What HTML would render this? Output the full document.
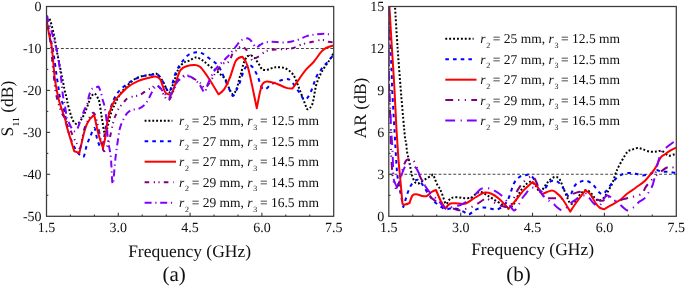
<!DOCTYPE html>
<html><head><meta charset="utf-8"><style>
html,body{margin:0;padding:0;background:#fff;}
svg{display:block;will-change:transform;}
text{font-family:"Liberation Serif",serif;fill:#111;text-rendering:geometricPrecision;}
</style></head><body>
<svg width="685" height="286" viewBox="0 0 685 286">
<defs><clipPath id="ca"><rect x="46.5" y="6.5" width="287.2" height="209.8"/></clipPath><clipPath id="cb"><rect x="388.8" y="6.5" width="287.5" height="209.8"/></clipPath></defs>
<line x1="46.5" y1="48.5" x2="333.7" y2="48.5" stroke="#444" stroke-width="1.05" stroke-dasharray="2.9 2.0" stroke-dashoffset="0.3"/>
<line x1="388.8" y1="174.3" x2="676.3" y2="174.3" stroke="#444" stroke-width="1.05" stroke-dasharray="2.9 2.0" stroke-dashoffset="-0.8"/>
<path d="M46.5,16.5 C47.1,17.1 49.2,17.8 50.1,20.2 C51.4,23.7 53.5,33.0 54.5,37.7 C55.5,42.4 55.6,45.0 56.2,48.2 C56.8,51.4 57.1,52.6 58.0,57.0 C58.9,61.4 60.4,69.2 61.5,74.5 C62.6,79.8 63.6,85.0 64.4,88.9 C65.2,92.8 65.9,94.9 66.6,97.7 C67.2,100.5 67.3,102.3 68.3,106.0 C69.3,109.7 71.1,116.7 72.5,119.7 C73.8,122.5 75.5,124.1 76.9,124.1 C78.4,124.1 79.8,121.9 81.2,119.7 C82.7,117.5 84.1,114.5 85.6,111.0 C87.1,107.5 89.0,101.3 90.2,98.6 C91.2,96.4 92.0,95.4 92.8,94.6 C93.6,93.8 94.2,93.3 95.0,93.8 C95.8,94.3 97.0,96.3 97.7,97.7 C98.4,99.1 98.9,99.7 99.4,102.0 C100.0,104.8 100.8,111.1 101.3,114.6 C101.8,118.1 102.2,120.2 102.7,123.0 C103.2,125.8 103.5,129.7 104.1,131.4 C104.5,132.6 105.4,134.1 106.0,133.0 C106.7,131.9 107.3,127.7 108.0,125.0 C108.7,122.3 109.3,119.5 110.0,117.0 C110.7,114.5 111.2,112.0 112.0,110.0 C112.8,108.0 113.5,107.1 114.6,104.8 C115.7,102.5 117.1,99.2 118.8,96.4 C120.5,93.6 122.3,90.9 125.0,88.0 C127.7,85.1 131.7,81.1 135.0,79.0 C138.3,76.9 142.2,76.2 145.0,75.5 C147.8,74.8 150.0,74.8 152.0,74.5 C154.0,74.2 155.2,72.9 157.0,74.0 C158.8,75.1 161.0,78.4 162.6,81.0 C164.2,83.6 165.6,87.5 166.8,89.4 C167.8,91.1 168.4,93.4 169.6,92.2 C170.8,91.0 172.4,86.1 173.8,82.4 C175.2,78.7 176.4,73.1 178.0,69.8 C179.6,66.5 181.7,64.3 183.6,62.8 C185.5,61.3 187.1,61.6 189.2,60.7 C191.3,59.8 193.7,57.4 196.0,57.4 C198.3,57.4 200.7,59.2 203.0,60.7 C205.3,62.2 207.4,64.3 210.0,66.3 C212.6,68.3 215.9,70.4 218.5,72.6 C221.1,74.8 223.8,77.0 225.5,79.6 C227.2,82.2 227.8,85.6 229.0,88.0 C230.2,90.4 231.6,94.0 232.8,94.2 C234.1,94.4 235.3,91.9 236.5,89.0 C237.7,86.1 239.0,79.7 239.8,77.0 C240.4,74.9 240.6,74.9 241.2,72.8 C241.8,70.7 242.6,66.7 243.3,64.4 C244.0,62.1 244.8,60.4 245.5,59.0 C246.2,57.6 246.6,56.8 247.5,56.2 C248.4,55.6 249.8,55.4 251.0,55.6 C252.2,55.8 253.4,56.5 254.4,57.5 C255.4,58.5 256.3,60.2 257.2,61.6 C258.1,63.0 259.2,64.5 260.0,65.8 C260.8,67.1 261.1,68.6 262.1,69.3 C263.2,70.0 264.9,70.1 266.3,70.0 C267.7,69.9 269.1,69.0 270.5,68.6 C271.9,68.2 273.3,67.6 274.7,67.4 C276.1,67.2 277.0,67.0 278.9,67.2 C280.8,67.4 283.5,67.2 285.9,68.5 C288.3,69.8 291.3,71.9 293.5,75.2 C295.7,78.5 297.3,83.8 299.2,88.5 C301.1,93.2 303.5,100.1 304.9,103.6 C306.1,106.5 306.4,109.3 307.7,109.3 C309.0,109.3 311.3,107.1 312.5,103.6 C313.9,99.5 314.7,90.1 316.3,84.7 C317.9,79.3 319.8,75.5 322.0,71.4 C324.2,67.3 327.6,63.1 329.5,60.0 C331.4,56.9 333.0,54.2 333.7,53.0" fill="none" stroke="#000000" stroke-width="2.0" stroke-dasharray="1.9 1.95" stroke-linejoin="round" clip-path="url(#ca)"/>
<path d="M46.5,18.0 C47.0,20.5 48.5,28.0 49.5,33.0 C50.5,38.0 51.7,43.5 52.5,48.0 C53.3,52.5 53.8,55.5 54.5,60.0 C55.2,64.5 55.8,70.3 56.5,75.0 C57.2,79.7 58.0,84.5 58.5,88.0 C59.0,91.5 59.0,93.7 59.7,96.2 C60.4,98.7 61.7,100.6 62.5,103.2 C63.3,105.8 63.8,108.7 64.5,112.0 C65.2,115.3 66.0,119.5 66.7,122.8 C67.4,126.1 67.6,128.8 68.5,132.0 C69.4,135.2 70.8,139.0 72.0,142.0 C73.2,145.0 74.7,147.8 76.0,150.0 C77.3,152.2 78.7,153.9 80.0,155.0 C81.3,156.1 82.7,158.1 83.8,156.5 C84.9,154.9 85.6,148.8 86.7,145.4 C87.8,142.0 89.3,138.7 90.6,135.8 C91.9,132.9 93.3,127.4 94.4,128.0 C95.5,128.6 96.3,136.5 97.3,139.6 C98.3,142.7 99.2,145.7 100.2,146.3 C101.2,147.0 102.4,145.4 103.0,143.5 C103.8,141.1 104.3,135.8 105.0,132.0 C105.7,128.2 106.2,123.9 107.0,120.4 C107.8,116.9 108.6,114.3 109.8,110.8 C111.0,107.3 112.2,102.7 113.9,99.2 C115.6,95.7 117.3,92.9 120.0,90.0 C122.7,87.1 126.7,84.2 130.0,82.0 C133.3,79.8 136.2,78.2 140.0,77.0 C143.8,75.8 149.8,75.1 152.6,74.6 C154.8,74.2 155.4,73.1 157.0,74.0 C158.6,74.9 160.5,77.7 162.0,80.0 C163.5,82.3 164.8,86.0 166.0,88.0 C167.2,90.0 168.0,92.5 169.0,92.0 C170.0,91.5 171.0,88.0 172.0,85.0 C173.0,82.0 174.0,77.2 175.2,74.0 C176.4,70.8 178.0,67.9 179.4,65.6 C180.8,63.3 182.0,61.9 183.6,60.0 C185.2,58.1 186.9,55.8 189.0,54.5 C191.1,53.2 194.1,52.4 196.4,52.2 C198.7,52.1 200.5,52.6 202.6,53.6 C204.7,54.6 206.6,56.4 208.8,58.0 C211.0,59.6 213.8,61.2 215.8,63.3 C217.8,65.3 219.7,68.1 221.0,70.3 C222.3,72.5 222.3,73.4 223.6,76.4 C224.9,79.4 227.5,85.2 229.0,88.5 C230.5,91.8 231.6,95.8 232.8,96.0 C234.1,96.2 235.2,92.5 236.5,90.0 C237.8,87.5 239.2,84.2 240.4,80.9 C241.7,77.6 242.7,72.6 244.0,70.0 C245.3,67.4 246.7,66.1 248.0,65.5 C249.3,64.9 250.6,65.0 252.0,66.5 C253.6,68.2 256.1,72.7 257.6,76.0 C259.1,79.3 260.0,84.4 261.2,86.6 C262.3,88.7 263.1,89.9 265.0,89.4 C266.9,88.9 269.1,85.4 272.6,83.7 C276.1,82.0 282.7,79.3 285.9,79.0 C289.1,78.7 289.4,79.6 291.6,81.8 C293.8,84.0 297.0,89.3 299.2,92.3 C301.4,95.3 303.0,99.8 304.9,99.8 C306.8,99.8 308.7,96.1 310.6,92.3 C312.5,88.5 314.7,80.5 316.3,77.0 C317.7,73.9 318.7,73.1 320.0,71.2 C321.3,69.3 322.6,67.2 323.9,65.7 C325.2,64.2 326.0,63.8 327.6,62.0 C329.2,60.2 332.4,56.2 333.3,55.0" fill="none" stroke="#0000ff" stroke-width="2.0" stroke-dasharray="3.6 4.1" stroke-linejoin="round" clip-path="url(#ca)"/>
<path d="M46.5,19.5 C46.9,21.9 48.1,29.2 49.0,34.0 C49.9,38.8 51.0,41.2 51.9,48.2 C52.8,55.2 53.9,70.1 54.5,76.2 C55.0,80.6 55.1,81.2 55.8,85.0 C56.5,88.8 57.5,94.5 58.5,98.7 C59.5,102.9 60.8,106.3 62.0,110.0 C63.2,113.7 64.8,118.1 65.5,120.6 C66.1,122.7 65.7,122.8 66.3,125.0 C67.8,130.1 74.2,151.3 74.2,151.3 C74.2,151.3 79.4,152.9 79.4,152.9 C79.4,152.9 82.8,137.7 84.0,133.0 C85.0,128.9 85.5,127.3 86.5,125.0 C87.5,122.7 89.9,119.0 89.9,119.0 C89.9,119.0 94.2,114.8 94.2,114.8 C94.2,114.8 97.2,129.5 98.7,135.0 C100.2,140.5 103.0,148.0 103.0,148.0 C103.0,148.0 105.0,139.6 105.7,135.0 C106.5,130.4 106.7,124.8 107.5,120.4 C108.3,116.0 109.6,112.1 110.8,108.8 C112.0,105.5 113.5,102.5 114.6,100.6 C115.7,98.7 116.0,98.9 117.5,97.4 C119.7,95.1 124.5,89.7 128.0,86.9 C131.5,84.1 134.8,82.4 138.5,80.8 C142.2,79.2 147.2,78.2 150.0,77.5 C152.8,76.8 153.9,76.2 155.6,76.5 C157.3,76.8 158.8,77.7 160.0,79.2 C161.2,80.7 161.7,83.3 162.6,85.5 C163.5,87.7 164.2,90.8 165.2,92.3 C166.2,93.8 167.3,94.1 168.4,94.4 C169.5,94.8 171.5,94.4 171.5,94.4 C171.5,94.4 173.0,90.8 174.1,87.6 C175.2,84.4 177.2,78.0 178.3,75.0 C179.3,72.3 179.5,71.2 180.8,69.8 C182.2,68.3 184.1,67.1 186.4,66.3 C188.7,65.5 192.5,64.8 194.8,64.9 C197.1,65.0 198.2,65.0 200.3,67.0 C202.6,69.2 205.7,73.7 208.7,78.2 C211.7,82.8 218.5,94.3 218.5,94.3 C218.5,94.3 222.2,92.1 224.1,89.4 C226.0,86.7 227.7,83.0 229.7,78.2 C231.7,73.4 233.8,64.3 235.9,60.7 C237.8,57.5 242.3,56.8 242.3,56.8 C242.3,56.8 246.2,60.8 247.6,65.9 C250.0,74.5 256.8,108.3 256.8,108.3 C256.8,108.3 260.1,89.8 261.8,85.3 C263.0,82.3 264.4,81.6 267.0,81.4 C269.6,81.2 274.1,82.9 277.3,84.0 C280.5,85.1 283.9,87.2 286.4,87.9 C288.9,88.7 292.5,88.5 292.5,88.5 C292.5,88.5 297.1,81.9 299.3,78.8 C301.5,75.7 303.4,72.6 305.8,69.8 C308.2,67.0 311.0,65.0 313.6,62.0 C316.2,59.0 319.3,53.9 321.4,51.6 C323.3,49.4 324.0,49.0 326.0,48.0 C328.0,47.0 332.2,45.9 333.5,45.5" fill="none" stroke="#ff0000" stroke-width="2.0" stroke-linejoin="round" clip-path="url(#ca)"/>
<path d="M46.5,19.0 C47.0,21.7 48.4,30.2 49.2,35.0 C50.0,39.8 50.8,43.2 51.3,48.0 C51.8,52.8 52.0,59.0 52.5,64.0 C53.0,69.0 53.5,73.4 54.0,78.0 C54.5,82.6 54.9,87.7 55.6,91.7 C56.3,95.7 57.1,98.7 58.1,102.2 C59.1,105.7 60.4,110.0 61.6,112.7 C62.8,115.4 63.8,116.0 65.1,118.5 C66.4,121.0 68.2,124.5 69.5,127.5 C70.8,130.5 71.8,133.7 73.0,136.3 C74.2,138.9 75.3,141.1 76.5,143.0 C77.7,144.9 79.0,150.0 80.3,147.8 C81.5,145.6 82.7,134.6 84.0,130.0 C85.3,125.4 86.6,122.9 88.2,120.0 C89.8,117.1 92.0,112.4 93.5,112.7 C95.0,113.0 95.8,117.5 97.0,122.0 C98.2,126.5 99.8,135.1 101.0,140.0 C102.2,144.9 102.7,150.9 104.0,151.2 C105.3,151.4 107.2,146.6 108.8,141.5 C110.4,136.4 112.4,125.1 113.7,120.4 C114.7,116.6 115.9,115.1 116.7,113.2 C117.5,111.3 117.6,110.3 118.5,108.8 C119.4,107.3 120.8,105.8 122.3,104.1 C123.8,102.4 125.3,99.8 127.2,98.5 C129.1,97.2 131.4,97.0 133.5,96.4 C135.6,95.8 137.6,96.1 139.8,95.0 C142.1,93.9 145.1,91.2 147.0,90.0 C148.9,88.8 150.0,88.8 151.4,88.0 C152.8,87.2 154.2,85.2 155.6,85.2 C157.0,85.2 158.6,86.3 160.0,88.0 C161.4,89.7 162.7,93.4 164.0,95.5 C165.3,97.6 166.8,100.4 168.0,100.5 C169.2,100.6 170.4,98.1 171.5,96.0 C172.6,93.9 173.2,91.0 174.5,88.0 C175.8,85.0 177.4,80.3 179.4,78.2 C181.4,76.1 184.3,75.5 186.4,75.4 C188.5,75.3 189.7,76.2 192.0,77.5 C194.3,78.8 198.1,81.2 200.3,83.0 C202.5,84.8 203.1,88.6 205.0,88.0 C206.9,87.4 209.7,82.2 211.5,79.6 C213.3,77.0 213.8,75.2 215.7,72.6 C217.6,70.0 220.5,65.8 222.7,64.0 C224.9,62.1 227.1,63.5 228.9,61.5 C230.7,59.5 232.1,53.7 233.3,51.9 C234.1,50.7 234.7,51.5 235.9,50.7 C237.2,49.8 239.4,46.8 241.1,46.6 C242.8,46.4 244.4,47.8 245.9,49.3 C247.4,50.8 248.8,53.5 249.9,55.4 C251.0,57.3 251.5,60.2 252.5,60.6 C253.5,61.0 254.7,58.9 256.0,58.0 C257.3,57.1 258.6,56.6 260.4,55.4 C262.1,54.2 263.8,52.0 266.5,51.0 C269.2,50.0 272.2,49.8 276.4,49.4 C280.6,49.0 287.5,49.3 291.6,48.5 C295.7,47.7 297.5,45.8 301.0,44.7 C304.5,43.6 309.0,42.6 312.5,41.8 C316.0,41.0 319.3,39.9 322.0,39.9 C324.7,39.9 326.7,41.4 328.6,41.8 C330.6,42.2 332.9,42.4 333.7,42.5" fill="none" stroke="#800080" stroke-width="2.0" stroke-dasharray="4.6 4.6 1.2 3.4 1.2 4.2" stroke-linejoin="round" clip-path="url(#ca)"/>
<path d="M46.6,15.3 C47.5,18.2 50.2,26.9 52.0,33.0 C53.8,39.1 55.7,44.8 57.1,51.7 C58.5,58.6 59.6,67.2 60.6,74.5 C61.6,81.8 62.2,90.3 62.9,95.2 C63.5,99.6 64.0,100.8 64.6,104.0 C65.2,107.2 65.8,111.7 66.4,114.5 C67.0,117.3 67.2,118.3 68.1,120.6 C68.9,122.8 70.5,126.2 71.5,128.0 C72.5,129.8 73.2,130.8 74.0,131.2 C74.8,131.6 75.7,131.1 76.5,130.2 C77.3,129.3 77.7,128.1 78.6,125.8 C79.5,123.4 80.9,118.9 82.0,116.0 C83.1,113.1 84.1,110.6 85.0,108.5 C85.9,106.4 86.7,105.7 87.4,103.6 C88.1,101.5 88.3,98.0 89.0,95.7 C89.7,93.4 90.6,90.8 91.5,89.5 C92.4,88.2 93.3,88.5 94.5,88.0 C95.7,87.5 98.5,86.5 98.5,86.5 C98.5,86.5 100.1,89.7 100.8,91.8 C101.5,93.9 101.8,96.5 102.4,98.9 C103.0,101.3 103.8,102.5 104.5,106.0 C105.2,109.5 105.9,114.4 106.5,120.0 C107.1,125.6 107.2,133.4 107.9,139.6 C108.6,145.8 110.0,149.6 110.8,157.0 C111.6,164.4 111.9,184.0 112.7,184.0 C113.5,184.0 114.6,165.3 115.6,157.0 C116.6,148.7 118.0,139.2 118.8,134.2 C119.3,130.7 119.5,129.5 120.2,127.2 C120.9,124.9 121.8,122.5 123.0,120.2 C124.2,117.9 125.7,115.0 127.2,113.2 C128.7,111.5 130.1,110.4 132.0,109.7 C133.9,109.0 136.3,109.8 138.4,109.0 C140.5,108.2 143.1,106.3 144.7,104.8 C146.3,103.3 147.0,101.7 148.1,99.9 C149.2,98.1 149.8,96.2 151.0,94.0 C152.2,91.8 154.2,87.7 155.6,86.5 C157.0,85.3 158.2,86.0 159.5,87.0 C160.8,88.0 162.0,90.5 163.6,92.3 C165.2,94.1 167.5,97.6 168.9,97.6 C170.3,97.5 170.8,94.3 172.0,92.0 C173.2,89.7 175.0,85.8 176.0,84.0 C176.9,82.4 176.7,82.2 178.0,81.0 C179.5,79.7 183.1,76.8 185.0,76.0 C186.9,75.2 188.1,76.2 189.3,76.4 C190.5,76.7 190.8,76.6 192.0,77.5 C193.6,78.7 196.9,81.3 199.0,83.8 C201.1,86.2 203.1,92.0 204.5,92.2 C205.9,92.4 205.9,88.4 207.3,85.2 C208.7,82.0 211.4,76.0 213.1,72.9 C214.8,69.8 215.9,68.7 217.5,66.8 C219.1,64.9 221.1,63.2 222.8,61.5 C224.6,59.8 226.4,58.0 228.0,56.3 C229.6,54.5 230.9,52.8 232.4,51.0 C233.9,49.2 235.4,47.1 236.8,45.4 C238.2,43.6 239.2,41.7 241.1,40.5 C243.0,39.3 246.2,38.0 248.1,38.4 C250.0,38.8 251.2,41.1 252.5,42.6 C253.8,44.1 254.8,47.1 256.0,47.5 C257.2,47.9 258.5,45.8 260.0,45.0 C261.5,44.2 262.9,43.1 264.8,42.6 C266.8,42.1 268.2,41.8 271.7,41.8 C275.2,41.8 281.7,42.7 286.0,42.4 C290.3,42.1 293.8,41.0 297.3,40.0 C300.8,39.0 303.9,37.0 306.8,36.1 C309.8,35.2 312.1,34.9 315.0,34.5 C317.9,34.1 321.6,33.8 323.9,33.7 C326.2,33.7 327.0,34.1 328.6,34.2 C330.2,34.3 332.9,34.5 333.7,34.5" fill="none" stroke="#8000ff" stroke-width="2.0" stroke-dasharray="7 3.7 1.2 3.7" stroke-linejoin="round" clip-path="url(#ca)"/>
<path d="M395.1,7.9 C395.5,14.6 396.6,33.6 397.6,48.0 C398.6,62.4 399.9,78.8 401.1,94.0 C402.4,109.2 404.3,130.9 405.1,139.0 C405.3,140.9 405.8,140.8 406.1,142.6 C406.4,144.7 406.6,148.6 407.0,151.4 C407.4,154.2 408.1,156.4 408.7,159.2 C409.3,162.0 409.9,165.2 410.5,168.0 C411.1,170.8 411.5,173.5 412.2,175.8 C412.9,178.1 413.9,180.7 414.8,182.0 C415.6,183.2 416.6,183.3 417.4,183.5 C418.2,183.7 418.6,183.5 419.6,183.0 C420.6,182.4 422.2,181.1 423.6,180.2 C425.0,179.3 426.7,178.3 428.0,177.6 C429.3,176.9 430.6,176.3 431.5,175.8 C432.4,175.3 432.6,174.1 433.2,174.7 C433.8,175.3 434.3,177.5 435.0,179.3 C435.7,181.1 436.8,183.9 437.6,185.5 C438.4,187.1 439.1,187.3 440.0,189.0 C440.9,190.7 441.7,193.1 442.7,195.6 C443.7,198.1 444.8,203.3 445.8,204.0 C446.9,204.7 447.9,201.1 449.0,200.0 C450.1,198.9 450.5,198.1 452.1,197.7 C453.7,197.2 456.3,197.2 458.4,197.3 C460.5,197.4 462.6,198.1 464.7,198.2 C466.8,198.3 469.3,198.3 471.0,197.7 C472.7,197.1 473.6,195.5 475.1,194.6 C476.6,193.7 478.2,192.0 480.0,192.0 C481.8,192.0 483.9,193.4 486.1,194.6 C488.4,195.8 490.7,197.6 493.5,199.3 C496.3,201.0 500.3,203.3 502.8,204.8 C505.3,206.3 506.5,208.7 508.3,208.5 C510.1,208.3 512.0,206.5 513.9,203.9 C515.8,201.3 517.5,195.9 519.4,192.8 C521.2,189.7 523.1,187.2 525.0,185.4 C526.9,183.6 528.8,181.6 530.6,181.7 C532.4,181.8 534.4,184.3 536.0,186.0 C537.6,187.7 538.4,192.1 540.0,192.0 C541.6,191.9 543.9,187.3 545.4,185.4 C546.9,183.5 547.6,182.1 549.1,180.7 C550.6,179.3 552.9,177.3 554.6,177.0 C556.3,176.7 557.9,177.2 559.3,178.9 C560.7,180.6 561.6,184.0 563.0,187.2 C564.4,190.4 566.3,195.5 567.6,198.3 C568.9,201.1 569.6,203.7 571.0,204.0 C572.4,204.3 574.3,201.9 575.9,200.2 C577.5,198.5 578.9,195.4 580.6,193.7 C582.3,192.0 584.4,190.2 586.1,190.0 C587.8,189.8 589.3,191.6 590.7,192.8 C592.1,194.0 593.0,196.1 594.4,197.4 C595.8,198.7 597.3,200.8 598.9,200.8 C600.5,200.8 602.6,199.1 604.2,197.3 C605.8,195.6 607.1,192.9 608.6,190.3 C610.1,187.7 611.8,184.4 613.0,181.6 C614.2,178.8 614.6,176.3 615.6,173.7 C616.6,171.1 617.1,169.5 619.0,165.9 C620.9,162.3 625.1,154.7 627.2,152.0 C628.7,150.1 630.1,150.6 631.7,149.9 C633.3,149.2 635.2,148.2 637.0,148.1 C638.8,147.9 640.2,148.4 642.2,149.0 C644.2,149.6 646.9,151.2 649.2,151.6 C651.5,152.0 654.1,151.7 656.2,151.6 C658.3,151.5 660.0,150.3 662.0,151.0 C664.0,151.7 666.4,155.1 668.5,155.6 C670.6,156.1 673.3,154.5 674.6,154.2 C675.4,154.0 676.0,154.0 676.3,154.0" fill="none" stroke="#000000" stroke-width="2.0" stroke-dasharray="1.9 2" stroke-linejoin="round" clip-path="url(#cb)"/>
<path d="M388.9,6.0 C389.1,11.7 389.8,29.3 390.2,40.0 C390.6,50.7 391.2,61.4 391.6,70.0 C392.0,78.6 391.8,81.8 392.3,91.8 C392.8,101.8 393.8,117.8 394.5,130.0 C395.2,142.2 395.9,156.7 396.5,165.0 C397.0,172.5 397.3,175.3 398.0,180.0 C398.7,184.7 399.6,188.5 400.5,193.0 C401.4,197.5 403.3,207.0 403.3,207.0 C403.3,207.0 404.9,201.6 405.7,199.1 C406.5,196.6 407.1,194.3 408.0,192.0 C408.9,189.7 409.9,187.0 411.2,185.0 C412.5,183.0 414.6,181.0 415.9,180.2 C417.2,179.4 417.9,179.5 419.0,180.2 C420.1,180.9 421.0,182.5 422.2,184.2 C423.4,185.9 424.8,188.4 426.1,190.4 C427.4,192.4 428.8,194.3 430.0,196.0 C431.2,197.7 432.1,199.4 433.2,200.7 C434.3,201.9 435.1,202.4 436.5,203.5 C437.9,204.6 440.1,206.2 441.6,207.2 C443.2,208.2 444.1,209.1 445.8,209.3 C447.6,209.5 450.0,208.2 452.1,208.2 C454.2,208.2 456.3,208.6 458.4,209.3 C460.5,210.0 462.9,211.5 464.7,212.4 C466.4,213.3 467.2,214.9 468.9,214.5 C470.6,214.1 472.9,211.2 475.1,210.0 C477.4,208.8 479.9,207.8 482.4,207.6 C484.8,207.3 487.3,208.2 489.8,208.5 C492.3,208.8 494.7,210.0 497.2,209.4 C499.7,208.8 502.6,207.0 504.6,204.8 C506.6,202.7 507.8,200.1 509.3,196.5 C510.9,192.9 512.2,186.8 513.9,183.5 C515.6,180.2 517.5,178.4 519.4,177.0 C521.2,175.6 523.1,175.5 525.0,175.2 C526.9,174.9 528.8,174.0 530.6,175.2 C532.5,176.4 534.6,180.0 536.1,182.6 C537.6,185.2 538.5,189.7 539.8,190.9 C541.1,192.1 542.5,191.4 544.0,190.0 C545.5,188.6 547.6,184.2 549.1,182.6 C550.5,181.1 551.3,180.8 552.8,180.7 C554.3,180.6 556.1,180.6 558.0,182.0 C559.9,183.4 562.0,186.6 563.9,189.0 C565.8,191.4 567.5,197.1 569.4,196.5 C571.2,195.9 573.1,187.9 575.0,185.4 C576.9,182.9 578.8,182.5 580.6,181.7 C582.5,180.9 584.2,180.4 586.1,180.7 C588.0,181.0 590.1,182.3 591.7,183.5 C593.3,184.7 594.1,186.1 595.5,187.7 C596.9,189.3 598.6,191.9 599.9,193.0 C601.1,194.0 602.0,194.3 603.0,194.0 C604.0,193.7 604.7,192.8 606.0,191.2 C607.4,189.6 609.5,186.4 611.2,184.2 C613.0,182.0 614.8,179.7 616.5,178.1 C618.2,176.5 619.7,175.5 621.7,174.6 C623.7,173.7 626.4,173.1 628.7,172.9 C631.0,172.8 633.4,173.3 635.7,173.7 C638.0,174.1 640.2,175.5 642.7,175.5 C645.2,175.5 648.8,174.4 651.0,173.5 C653.2,172.6 654.5,170.3 656.2,170.0 C658.0,169.7 659.5,171.4 661.5,171.7 C663.5,172.0 666.0,171.5 668.5,171.7 C671.0,171.9 675.0,172.9 676.3,173.1" fill="none" stroke="#0000ff" stroke-width="2.0" stroke-dasharray="3.6 4.1" stroke-linejoin="round" clip-path="url(#cb)"/>
<path d="M389.4,6.6 C389.8,13.8 391.1,35.9 392.0,49.8 C392.9,63.7 393.8,76.6 394.5,90.0 C395.2,103.4 395.8,118.3 396.5,130.0 C397.2,141.7 398.0,153.3 398.5,160.0 C398.9,165.0 399.0,165.5 399.4,170.0 C399.8,174.5 400.5,181.3 401.0,187.0 C401.5,192.7 402.5,204.0 402.5,204.0 C402.5,204.0 403.8,204.8 405.0,204.6 C406.2,204.4 409.6,203.0 409.6,203.0 C409.6,203.0 411.4,196.6 412.7,195.2 C414.0,193.8 415.8,194.3 417.4,194.4 C419.0,194.5 420.6,195.7 422.2,196.0 C423.8,196.3 425.3,196.7 426.9,196.0 C428.5,195.3 430.1,193.0 431.6,192.0 C433.1,191.0 436.0,190.0 436.0,190.0 C436.0,190.0 439.2,197.9 440.8,201.0 C442.4,204.1 445.6,208.5 445.6,208.5 C445.6,208.5 448.2,204.3 450.4,203.5 C452.6,202.7 456.1,203.5 458.7,203.5 C461.3,203.5 463.0,204.5 465.8,203.5 C468.6,202.5 472.1,199.3 475.3,197.5 C478.5,195.7 482.0,193.2 484.8,192.6 C487.6,192.0 489.6,193.0 492.0,194.0 C494.4,195.0 496.2,196.4 499.0,198.8 C501.8,201.2 508.5,208.7 508.5,208.7 C508.5,208.7 513.0,203.6 515.5,200.6 C518.0,197.6 520.7,193.5 523.6,190.4 C526.5,187.3 532.7,181.9 532.7,181.9 C532.7,181.9 536.3,185.2 537.8,187.3 C539.3,189.4 541.9,194.4 541.9,194.4 C541.9,194.4 544.3,193.2 546.0,192.5 C547.7,191.8 550.3,190.4 552.0,190.4 C553.7,190.4 554.3,191.2 556.0,192.5 C557.7,193.8 559.7,195.3 562.1,198.5 C564.5,201.7 570.2,211.6 570.2,211.6 C570.2,211.6 573.8,206.0 576.3,202.5 C578.8,199.0 585.4,190.4 585.4,190.4 C585.4,190.4 588.7,192.3 590.4,194.4 C592.1,196.5 594.0,200.8 595.5,203.0 C597.0,205.2 598.2,206.5 599.6,207.6 C601.0,208.7 604.0,209.3 604.0,209.3 C604.0,209.3 608.5,206.8 611.2,205.2 C613.9,203.6 617.4,201.9 620.0,200.0 C622.6,198.1 624.4,195.9 627.0,193.8 C629.6,191.8 632.7,189.9 635.7,187.7 C638.7,185.5 642.2,183.4 645.0,180.7 C647.8,178.0 650.8,174.1 652.7,171.7 C654.6,169.3 654.9,168.8 656.2,166.5 C657.5,164.2 659.1,159.8 660.6,157.7 C662.1,155.6 663.4,155.4 665.0,154.2 C666.6,153.0 668.4,151.8 670.2,150.7 C672.0,149.6 675.0,148.1 676.0,147.6" fill="none" stroke="#ff0000" stroke-width="2.0" stroke-linejoin="round" clip-path="url(#cb)"/>
<path d="M388.5,6.0 C388.5,15.0 388.5,46.3 388.6,60.0 C388.7,73.7 388.8,78.3 389.1,88.0 C389.4,97.7 389.9,107.7 390.2,118.0 C390.5,128.3 390.6,140.5 391.0,150.0 C391.4,159.5 392.0,169.5 392.5,175.0 C392.9,179.1 393.4,180.8 394.0,183.0 C394.6,185.2 395.0,188.5 396.0,188.0 C397.0,187.5 398.8,183.3 400.0,180.0 C401.2,176.7 401.9,171.3 403.0,168.0 C404.1,164.7 405.1,161.5 406.6,160.1 C408.1,158.7 410.7,159.1 412.2,159.8 C413.7,160.5 414.5,161.8 415.7,164.5 C417.0,167.3 418.8,173.6 420.1,176.7 C421.4,179.8 422.5,180.6 423.6,182.8 C424.8,185.0 425.9,187.7 427.0,190.0 C428.1,192.3 428.6,194.9 430.0,196.7 C431.4,198.5 433.5,199.8 435.3,200.9 C437.1,202.0 438.9,202.1 440.6,203.0 C442.4,203.9 443.9,205.3 445.8,206.1 C447.7,206.9 449.9,207.3 452.0,208.0 C454.1,208.7 456.2,210.1 458.4,210.3 C460.6,210.5 462.9,209.5 465.0,209.0 C467.1,208.5 469.0,208.0 471.0,207.2 C473.0,206.4 475.2,205.2 477.2,204.0 C479.2,202.8 481.5,200.9 483.0,200.0 C484.5,199.1 484.4,198.0 486.1,198.3 C487.8,198.6 490.5,200.8 493.0,202.0 C495.5,203.2 498.4,204.9 500.9,205.7 C503.4,206.5 506.1,207.4 508.0,207.0 C509.9,206.6 510.7,205.2 512.0,203.0 C513.3,200.8 514.2,196.7 515.7,193.7 C517.2,190.7 519.1,187.5 521.0,185.0 C522.9,182.5 525.0,180.4 526.9,178.9 C528.8,177.4 531.2,176.2 532.4,176.1 C533.6,175.9 533.6,176.9 534.3,178.0 C535.1,179.2 535.9,181.2 537.0,183.5 C538.1,185.8 539.6,189.5 541.0,192.0 C542.4,194.5 544.0,197.2 545.4,198.3 C546.8,199.4 547.2,198.3 549.1,198.3 C551.0,198.3 554.0,198.3 556.5,198.3 C559.0,198.3 561.4,198.9 563.9,198.3 C566.4,197.7 568.8,195.7 571.3,194.6 C573.8,193.5 576.4,192.2 578.7,191.9 C581.0,191.6 583.1,192.4 585.0,193.0 C586.9,193.6 588.4,194.6 590.2,195.6 C592.0,196.6 594.0,198.1 596.0,199.0 C598.0,199.9 600.5,201.1 602.5,200.8 C604.5,200.5 606.2,197.1 608.0,197.0 C609.8,196.9 611.3,199.4 613.0,200.0 C614.7,200.6 616.5,201.0 618.2,200.8 C620.0,200.7 621.5,199.7 623.5,199.1 C625.5,198.5 628.2,197.9 630.5,197.3 C632.8,196.7 635.4,196.3 637.4,195.6 C639.4,194.9 641.3,194.5 642.7,193.0 C644.1,191.5 644.0,189.3 646.0,186.6 C648.0,183.9 651.9,179.6 654.5,177.0 C657.1,174.4 659.6,172.5 661.8,170.9 C664.0,169.3 666.0,167.8 667.6,167.3 C669.2,166.8 669.8,167.8 671.2,167.7 C672.6,167.6 675.2,167.1 676.0,167.0" fill="none" stroke="#800080" stroke-width="2.0" stroke-dasharray="7.9 4.9 1.2 5.5 1.2 5.3" stroke-linejoin="round" clip-path="url(#cb)"/>
<path d="M388.5,6.0 C388.5,15.0 388.6,46.0 388.7,60.0 C388.8,74.0 389.1,81.7 389.4,90.0 C389.7,98.3 390.1,103.3 390.4,110.0 C390.7,116.7 390.8,123.3 391.1,130.0 C391.5,136.7 392.1,142.2 392.5,150.0 C392.9,157.8 393.0,171.3 393.4,176.8 C393.6,180.0 394.3,181.2 395.0,183.0 C395.7,184.8 396.8,187.6 397.6,187.3 C398.4,187.0 398.8,183.6 399.7,181.0 C400.6,178.4 401.8,174.1 402.8,171.5 C403.9,168.9 405.0,166.4 406.0,165.2 C407.0,164.0 408.0,164.0 409.0,164.0 C410.0,164.0 411.0,164.6 412.2,165.3 C413.4,166.0 415.0,166.5 416.4,168.4 C417.8,170.3 419.2,174.0 420.6,176.8 C422.0,179.6 423.4,182.8 424.8,185.2 C426.2,187.6 427.2,189.3 429.0,191.4 C430.8,193.5 433.6,195.9 435.3,197.7 C437.1,199.4 437.9,200.2 439.5,201.9 C441.1,203.7 443.3,207.1 444.7,208.2 C446.0,209.2 446.3,208.9 447.9,208.6 C449.5,208.2 452.1,206.7 454.2,206.1 C456.3,205.5 458.1,206.1 460.5,205.0 C462.9,203.9 466.5,201.5 468.9,199.8 C471.3,198.1 473.2,196.4 475.1,194.6 C477.1,192.8 478.8,190.2 480.6,189.1 C482.4,188.0 484.0,187.9 486.1,188.1 C488.2,188.2 490.7,188.6 493.5,190.0 C496.3,191.4 500.2,194.0 502.8,196.5 C505.4,199.0 507.5,202.5 509.3,204.8 C511.1,207.1 512.5,210.1 513.9,210.4 C515.3,210.7 516.2,208.7 517.6,206.7 C519.0,204.7 520.8,200.5 522.2,198.3 C523.6,196.1 524.5,195.4 525.9,193.7 C527.3,192.0 528.6,188.9 530.6,188.1 C532.6,187.3 535.5,187.4 538.0,189.1 C540.5,190.8 542.9,196.0 545.4,198.3 C547.9,200.6 550.9,201.6 552.8,203.0 C554.6,204.4 555.0,205.5 556.5,206.7 C558.0,207.9 560.1,210.4 562.0,210.4 C563.9,210.4 566.1,207.9 567.6,206.7 C569.1,205.5 569.8,204.1 571.0,203.0 C572.2,201.9 573.1,201.4 575.0,200.2 C576.9,199.0 580.1,196.1 582.4,195.6 C584.6,195.1 586.6,196.0 588.5,197.3 C590.4,198.6 592.0,202.0 593.7,203.5 C595.5,205.0 597.5,206.7 599.0,206.1 C600.5,205.5 601.7,201.8 603.0,200.0 C604.3,198.2 605.4,195.9 606.9,195.6 C608.4,195.3 609.7,196.4 612.0,198.0 C614.5,199.8 619.1,204.0 621.7,206.1 C624.3,208.2 625.8,210.3 627.8,210.5 C629.8,210.7 632.1,208.5 634.0,207.0 C635.9,205.5 637.6,203.0 639.2,201.7 C640.8,200.4 642.3,200.2 643.6,199.1 C644.9,198.0 645.6,197.2 647.0,195.0 C648.5,192.6 651.2,189.0 652.7,184.8 C654.2,180.6 655.2,174.2 656.2,170.0 C657.2,165.8 657.9,162.6 658.8,159.5 C659.7,156.4 660.2,153.7 661.5,151.6 C662.8,149.5 664.7,148.8 666.7,147.2 C668.7,145.6 672.1,143.2 673.7,142.0 C675.0,141.0 675.9,140.3 676.3,140.0" fill="none" stroke="#8000ff" stroke-width="2.0" stroke-dasharray="9.8 5.5 1.2 5.1" stroke-linejoin="round" clip-path="url(#cb)"/>
<rect x="46.5" y="6.5" width="287.2" height="209.8" fill="none" stroke="#3a3a3a" stroke-width="1.25"/>
<line x1="118.3" y1="216.3" x2="118.3" y2="212.70000000000002" stroke="#3a3a3a" stroke-width="1.1"/>
<line x1="190.1" y1="216.3" x2="190.1" y2="212.70000000000002" stroke="#3a3a3a" stroke-width="1.1"/>
<line x1="261.9" y1="216.3" x2="261.9" y2="212.70000000000002" stroke="#3a3a3a" stroke-width="1.1"/>
<line x1="70.4" y1="216.3" x2="70.4" y2="214.5" stroke="#3a3a3a" stroke-width="1.1"/>
<line x1="94.4" y1="216.3" x2="94.4" y2="214.5" stroke="#3a3a3a" stroke-width="1.1"/>
<line x1="142.2" y1="216.3" x2="142.2" y2="214.5" stroke="#3a3a3a" stroke-width="1.1"/>
<line x1="166.2" y1="216.3" x2="166.2" y2="214.5" stroke="#3a3a3a" stroke-width="1.1"/>
<line x1="214.0" y1="216.3" x2="214.0" y2="214.5" stroke="#3a3a3a" stroke-width="1.1"/>
<line x1="238.0" y1="216.3" x2="238.0" y2="214.5" stroke="#3a3a3a" stroke-width="1.1"/>
<line x1="285.8" y1="216.3" x2="285.8" y2="214.5" stroke="#3a3a3a" stroke-width="1.1"/>
<line x1="309.8" y1="216.3" x2="309.8" y2="214.5" stroke="#3a3a3a" stroke-width="1.1"/>
<line x1="46.5" y1="48.5" x2="50.1" y2="48.5" stroke="#3a3a3a" stroke-width="1.1"/>
<line x1="46.5" y1="90.4" x2="50.1" y2="90.4" stroke="#3a3a3a" stroke-width="1.1"/>
<line x1="46.5" y1="132.4" x2="50.1" y2="132.4" stroke="#3a3a3a" stroke-width="1.1"/>
<line x1="46.5" y1="174.3" x2="50.1" y2="174.3" stroke="#3a3a3a" stroke-width="1.1"/>
<line x1="46.5" y1="27.5" x2="48.3" y2="27.5" stroke="#3a3a3a" stroke-width="1.1"/>
<line x1="46.5" y1="69.4" x2="48.3" y2="69.4" stroke="#3a3a3a" stroke-width="1.1"/>
<line x1="46.5" y1="111.4" x2="48.3" y2="111.4" stroke="#3a3a3a" stroke-width="1.1"/>
<line x1="46.5" y1="153.4" x2="48.3" y2="153.4" stroke="#3a3a3a" stroke-width="1.1"/>
<line x1="46.5" y1="195.3" x2="48.3" y2="195.3" stroke="#3a3a3a" stroke-width="1.1"/>
<rect x="388.8" y="6.5" width="287.5" height="209.8" fill="none" stroke="#3a3a3a" stroke-width="1.25"/>
<line x1="460.7" y1="216.3" x2="460.7" y2="212.70000000000002" stroke="#3a3a3a" stroke-width="1.1"/>
<line x1="532.5" y1="216.3" x2="532.5" y2="212.70000000000002" stroke="#3a3a3a" stroke-width="1.1"/>
<line x1="604.4" y1="216.3" x2="604.4" y2="212.70000000000002" stroke="#3a3a3a" stroke-width="1.1"/>
<line x1="412.8" y1="216.3" x2="412.8" y2="214.5" stroke="#3a3a3a" stroke-width="1.1"/>
<line x1="436.7" y1="216.3" x2="436.7" y2="214.5" stroke="#3a3a3a" stroke-width="1.1"/>
<line x1="484.6" y1="216.3" x2="484.6" y2="214.5" stroke="#3a3a3a" stroke-width="1.1"/>
<line x1="508.6" y1="216.3" x2="508.6" y2="214.5" stroke="#3a3a3a" stroke-width="1.1"/>
<line x1="556.5" y1="216.3" x2="556.5" y2="214.5" stroke="#3a3a3a" stroke-width="1.1"/>
<line x1="580.5" y1="216.3" x2="580.5" y2="214.5" stroke="#3a3a3a" stroke-width="1.1"/>
<line x1="628.4" y1="216.3" x2="628.4" y2="214.5" stroke="#3a3a3a" stroke-width="1.1"/>
<line x1="652.3" y1="216.3" x2="652.3" y2="214.5" stroke="#3a3a3a" stroke-width="1.1"/>
<line x1="388.8" y1="174.3" x2="392.40000000000003" y2="174.3" stroke="#3a3a3a" stroke-width="1.1"/>
<line x1="388.8" y1="132.4" x2="392.40000000000003" y2="132.4" stroke="#3a3a3a" stroke-width="1.1"/>
<line x1="388.8" y1="90.4" x2="392.40000000000003" y2="90.4" stroke="#3a3a3a" stroke-width="1.1"/>
<line x1="388.8" y1="48.5" x2="392.40000000000003" y2="48.5" stroke="#3a3a3a" stroke-width="1.1"/>
<line x1="388.8" y1="195.3" x2="390.6" y2="195.3" stroke="#3a3a3a" stroke-width="1.1"/>
<line x1="388.8" y1="153.4" x2="390.6" y2="153.4" stroke="#3a3a3a" stroke-width="1.1"/>
<line x1="388.8" y1="111.4" x2="390.6" y2="111.4" stroke="#3a3a3a" stroke-width="1.1"/>
<line x1="388.8" y1="69.4" x2="390.6" y2="69.4" stroke="#3a3a3a" stroke-width="1.1"/>
<line x1="388.8" y1="27.5" x2="390.6" y2="27.5" stroke="#3a3a3a" stroke-width="1.1"/>
<text x="46.5" y="231.8" font-size="14" text-anchor="middle">1.5</text>
<text x="388.8" y="231.8" font-size="14" text-anchor="middle">1.5</text>
<text x="118.3" y="231.8" font-size="14" text-anchor="middle">3.0</text>
<text x="460.7" y="231.8" font-size="14" text-anchor="middle">3.0</text>
<text x="190.1" y="231.8" font-size="14" text-anchor="middle">4.5</text>
<text x="532.5" y="231.8" font-size="14" text-anchor="middle">4.5</text>
<text x="261.9" y="231.8" font-size="14" text-anchor="middle">6.0</text>
<text x="604.4" y="231.8" font-size="14" text-anchor="middle">6.0</text>
<text x="333.7" y="231.8" font-size="14" text-anchor="middle">7.5</text>
<text x="676.3" y="231.8" font-size="14" text-anchor="middle">7.5</text>
<text x="41.6" y="11.1" font-size="14" text-anchor="end">0</text>
<text x="41.6" y="53.1" font-size="14" text-anchor="end">-10</text>
<text x="41.6" y="95.0" font-size="14" text-anchor="end">-20</text>
<text x="41.6" y="137.0" font-size="14" text-anchor="end">-30</text>
<text x="41.6" y="178.9" font-size="14" text-anchor="end">-40</text>
<text x="41.6" y="220.9" font-size="14" text-anchor="end">-50</text>
<text x="384.2" y="220.9" font-size="14" text-anchor="end">0</text>
<text x="384.2" y="178.9" font-size="14" text-anchor="end">3</text>
<text x="384.2" y="137.0" font-size="14" text-anchor="end">6</text>
<text x="384.2" y="95.0" font-size="14" text-anchor="end">9</text>
<text x="384.2" y="53.1" font-size="14" text-anchor="end">12</text>
<text x="384.2" y="11.1" font-size="14" text-anchor="end">15</text>
<text x="189.6" y="256.6" font-size="17.5" text-anchor="middle">Frequency (GHz)</text>
<text x="532.6" y="254.6" font-size="17.5" text-anchor="middle">Frequency (GHz)</text>
<text x="174.1" y="280.8" font-size="21" text-anchor="middle">(a)</text>
<text x="518.5" y="280.8" font-size="21" text-anchor="middle">(b)</text>
<text transform="translate(13.2,108.6) rotate(-90)" font-size="17.5" text-anchor="middle">S<tspan font-size="9.5" dx="0.3" dy="5.4">11</tspan><tspan dy="-5.4"> (dB)</tspan></text>
<text transform="translate(365.5,108) rotate(-90)" font-size="17.5" text-anchor="middle">AR (dB)</text>
<line x1="144.6" y1="120.7" x2="172.4" y2="120.7" stroke="#000000" stroke-width="2.0" stroke-dasharray="1.9 1.95"/>
<text x="179.0" y="125.2" font-size="13.5"><tspan font-style="italic">r</tspan><tspan font-size="8" dx="0.8" dy="4.4">2</tspan><tspan dx="-0.8" dy="-4.4"> = 25 mm, </tspan><tspan font-style="italic">r</tspan><tspan font-size="8" dx="0.8" dy="4.4">3</tspan><tspan dx="-0.8" dy="-4.4"> = 12.5 mm</tspan></text>
<line x1="144.6" y1="141.2" x2="171.2" y2="141.2" stroke="#0000ff" stroke-width="2.0" stroke-dasharray="3.6 4.1"/>
<text x="179.0" y="145.7" font-size="13.5"><tspan font-style="italic">r</tspan><tspan font-size="8" dx="0.8" dy="4.4">2</tspan><tspan dx="-0.8" dy="-4.4"> = 27 mm, </tspan><tspan font-style="italic">r</tspan><tspan font-size="8" dx="0.8" dy="4.4">3</tspan><tspan dx="-0.8" dy="-4.4"> = 12.5 mm</tspan></text>
<line x1="144.6" y1="161.7" x2="176.0" y2="161.7" stroke="#ff0000" stroke-width="2.0"/>
<text x="179.0" y="166.2" font-size="13.5"><tspan font-style="italic">r</tspan><tspan font-size="8" dx="0.8" dy="4.4">2</tspan><tspan dx="-0.8" dy="-4.4"> = 27 mm, </tspan><tspan font-style="italic">r</tspan><tspan font-size="8" dx="0.8" dy="4.4">3</tspan><tspan dx="-0.8" dy="-4.4"> = 14.5 mm</tspan></text>
<line x1="144.6" y1="182.2" x2="173.6" y2="182.2" stroke="#800080" stroke-width="2.0" stroke-dasharray="4.6 4.6 1.2 3.4 1.2 4.2"/>
<text x="179.0" y="186.7" font-size="13.5"><tspan font-style="italic">r</tspan><tspan font-size="8" dx="0.8" dy="4.4">2</tspan><tspan dx="-0.8" dy="-4.4"> = 29 mm, </tspan><tspan font-style="italic">r</tspan><tspan font-size="8" dx="0.8" dy="4.4">3</tspan><tspan dx="-0.8" dy="-4.4"> = 14.5 mm</tspan></text>
<line x1="144.6" y1="202.7" x2="172.8" y2="202.7" stroke="#8000ff" stroke-width="2.0" stroke-dasharray="7 3.7 1.2 3.7"/>
<text x="179.0" y="207.2" font-size="13.5"><tspan font-style="italic">r</tspan><tspan font-size="8" dx="0.8" dy="4.4">2</tspan><tspan dx="-0.8" dy="-4.4"> = 29 mm, </tspan><tspan font-style="italic">r</tspan><tspan font-size="8" dx="0.8" dy="4.4">3</tspan><tspan dx="-0.8" dy="-4.4"> = 16.5 mm</tspan></text>
<line x1="445.3" y1="38.8" x2="473.6" y2="38.8" stroke="#000000" stroke-width="2.0" stroke-dasharray="1.9 2"/>
<text x="480.2" y="43.3" font-size="13.5"><tspan font-style="italic">r</tspan><tspan font-size="8" dx="0.8" dy="4.4">2</tspan><tspan dx="-0.8" dy="-4.4"> = 25 mm, </tspan><tspan font-style="italic">r</tspan><tspan font-size="8" dx="0.8" dy="4.4">3</tspan><tspan dx="-0.8" dy="-4.4"> = 12.5 mm</tspan></text>
<line x1="445.3" y1="59.2" x2="471.9" y2="59.2" stroke="#0000ff" stroke-width="2.0" stroke-dasharray="3.6 4.1"/>
<text x="480.2" y="63.8" font-size="13.5"><tspan font-style="italic">r</tspan><tspan font-size="8" dx="0.8" dy="4.4">2</tspan><tspan dx="-0.8" dy="-4.4"> = 27 mm, </tspan><tspan font-style="italic">r</tspan><tspan font-size="8" dx="0.8" dy="4.4">3</tspan><tspan dx="-0.8" dy="-4.4"> = 12.5 mm</tspan></text>
<line x1="445.3" y1="79.7" x2="476.5" y2="79.7" stroke="#ff0000" stroke-width="2.0"/>
<text x="480.2" y="84.2" font-size="13.5"><tspan font-style="italic">r</tspan><tspan font-size="8" dx="0.8" dy="4.4">2</tspan><tspan dx="-0.8" dy="-4.4"> = 27 mm, </tspan><tspan font-style="italic">r</tspan><tspan font-size="8" dx="0.8" dy="4.4">3</tspan><tspan dx="-0.8" dy="-4.4"> = 14.5 mm</tspan></text>
<line x1="445.3" y1="100.1" x2="477.1" y2="100.1" stroke="#800080" stroke-width="2.0" stroke-dasharray="7.9 4.9 1.2 5.5 1.2 5.3"/>
<text x="480.2" y="104.6" font-size="13.5"><tspan font-style="italic">r</tspan><tspan font-size="8" dx="0.8" dy="4.4">2</tspan><tspan dx="-0.8" dy="-4.4"> = 29 mm, </tspan><tspan font-style="italic">r</tspan><tspan font-size="8" dx="0.8" dy="4.4">3</tspan><tspan dx="-0.8" dy="-4.4"> = 14.5 mm</tspan></text>
<line x1="445.3" y1="120.6" x2="477.1" y2="120.6" stroke="#8000ff" stroke-width="2.0" stroke-dasharray="9.8 5.5 1.2 5.1"/>
<text x="480.2" y="125.1" font-size="13.5"><tspan font-style="italic">r</tspan><tspan font-size="8" dx="0.8" dy="4.4">2</tspan><tspan dx="-0.8" dy="-4.4"> = 29 mm, </tspan><tspan font-style="italic">r</tspan><tspan font-size="8" dx="0.8" dy="4.4">3</tspan><tspan dx="-0.8" dy="-4.4"> = 16.5 mm</tspan></text>
</svg>
</body></html>
